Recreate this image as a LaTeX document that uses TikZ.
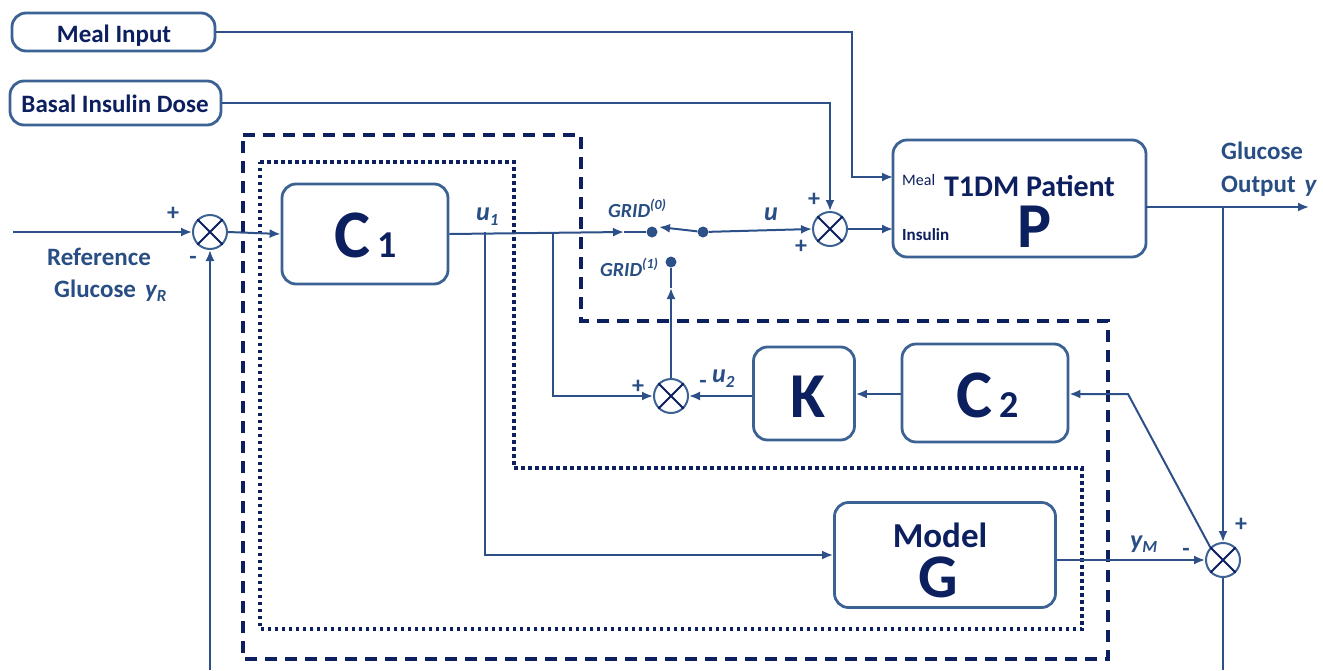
\documentclass[tikz,border=0pt]{standalone}
\usepackage{fontspec}
\setmainfont{Carlito}
\usetikzlibrary{arrows.meta,calc}
\definecolor{navy}{RGB}{12,31,94}
\definecolor{boxc}{RGB}{60,98,148}
\definecolor{linec}{RGB}{44,80,135}
\definecolor{labc}{RGB}{40,78,132}
\newcommand{\fs}[1]{\fontsize{#1}{#1}\selectfont}
\begin{document}
\begin{tikzpicture}[x=1pt,y=-1pt,
  blk/.style={draw=boxc,line width=2.8pt,rounded corners=14pt,inner sep=0,fill=white},
  sumnode/.style={circle,draw=boxc,line width=2pt,minimum size=34pt,inner sep=0,fill=white},
  conn/.style={draw=linec,line width=2pt},
  arr/.style={conn,-{Latex[length=11pt,width=9pt]}},
  dotnode/.style={circle,fill=linec,minimum size=11pt,inner sep=0},
  txt/.style={inner sep=0,text=navy,font=\bfseries},
  lab/.style={inner sep=0,text=labc,font=\bfseries},
  sgn/.style={inner sep=0,text=labc,font=\bfseries\fs{24}},
  dashbox/.style={draw=navy,line width=3.5pt,dash pattern=on 12pt off 8pt},
  dotbox/.style={draw=navy,line width=3.5pt,dash pattern=on 3.5pt off 3.5pt}
]
\useasboundingbox (0,0) rectangle (1323,670);

% enclosing boxes
\draw[dashbox] (243,135) -- (581,135) -- (581,321) -- (1108,321) -- (1108,659) -- (243,659) -- cycle;
\draw[dotbox] (260,162) -- (514,162) -- (514,468) -- (1082,468) -- (1082,629) -- (260,629) -- cycle;

% blocks
\node[blk,minimum width=203pt,minimum height=38pt] (meal) at (113.5,32) {};
\node[blk,minimum width=211pt,minimum height=44pt] (basal) at (115.5,103) {};
\node[blk,minimum width=166pt,minimum height=100pt] (C1) at (365,234) {};
\node[blk,minimum width=253pt,minimum height=117pt] (P) at (1019.5,198.5) {};
\node[blk,minimum width=101pt,minimum height=93pt] (K) at (804,393.5) {};
\node[blk,minimum width=166pt,minimum height=98pt] (C2) at (985,393) {};
\node[blk,minimum width=221pt,minimum height=105pt] (G) at (945,555) {};

% summing junctions
\node[sumnode] (s0) at (210,232) {};
\node[sumnode] (s1) at (830,229) {};
\node[sumnode] (s2) at (671,396) {};
\node[sumnode] (s3) at (1223,560) {};

% switch contacts
\node[dotnode] (g0) at (652,232) {};
\node[dotnode] (g0r) at (703,232) {};
\node[dotnode] (g1) at (671,262) {};

% coordinates
\coordinate (yin) at (13,232);
\coordinate (fb) at (210,670);
\coordinate (ga) at (624,232);
\coordinate (sw) at (659,227);
\coordinate (mk) at (852,177);
\coordinate (pm) at (893,177);
\coordinate (pin) at (893,229);
\coordinate (po) at (1146,207);
\coordinate (yo) at (1309,207);
\coordinate (br) at (1223,207);
\coordinate (bot) at (1223,670);
\coordinate (dg) at (1128,394);
\coordinate (b1) at (485,232);
\coordinate (b2) at (553,232);
\coordinate (ga1) at (671,288);

% connectors
\draw[arr] (yin) -- (s0.west);
\draw[arr] (fb) -- (s0.south);
\draw[arr] (s0.east) -- (C1.west);
\draw[arr] (C1.east) -- (ga);
\draw[conn] (ga) -- (g0);
\draw[arr] (g0r) -- (sw);
\draw[arr] (g0r) -- (s1.west);
\draw[arr] (s1.east) -- (pin);
\draw[arr] (meal.east) -| (mk) -- (pm);
\draw[arr] (basal.east) -| (s1.north);
\draw[arr] (po) -- (yo);
\draw[arr] (br) -- (s3.north);
\draw[conn] (s3.south) -- (bot);
\draw[arr] (G.east |- s3) -- (s3.west);
\draw[arr] (s3.north west) -- (dg) -- (C2.east |- dg);
\draw[arr] (C2.west |- dg) -- (K.east |- dg);
\draw[arr] (K.west |- s2) -- (s2.east);
\draw[arr] (b1) |- (G.west);
\draw[arr] (b2) |- (s2.west);
\draw[arr] (s2.north) -- (ga1);
\draw[conn] (ga1) -- (g1);

% crosses in the summing junctions
\foreach \s in {s0,s1,s2,s3}{
  \draw[navy,line width=2pt] (\s.north west) -- (\s.south east) (\s.north east) -- (\s.south west);
}

% block texts
\node[txt,anchor=base] (tmeal) at (114,42) {\fs{25}Meal Input};
\node[txt,anchor=base] (tbasal) at (115,112) {\fs{25}Basal Insulin Dose};
\node[txt,anchor=base] (tc1) at (366,257) {\fs{68}C\hspace{7pt}\fs{38}1};
\node[txt,anchor=base] (tc2) at (988,417) {\fs{68}C\hspace{7pt}\fs{38}2};
\node[txt,anchor=base] (tk) at (808,417) {\fs{64}K};
\node[txt,anchor=base] (tmodel) at (940,547) {\fs{35}Model};
\node[txt,anchor=base] (tg) at (938,597) {\fs{62}G};
\node[txt,anchor=base] (tpat) at (1029.5,196) {\fs{30}T1DM Patient};
\node[txt,anchor=base] (tp) at (1035,247) {\fs{64}P};
\node[txt,anchor=base west,font=\mdseries] (tpm) at (902,185) {\fs{16}Meal};
\node[txt,anchor=base west] (tpi) at (902,240) {\fs{17}Insulin};

% signal labels
\node[lab,anchor=base] (lref) at (99,265) {\fs{25}Reference};
\node[lab,anchor=base west] (lglu) at (54,297) {\fs{25}Glucose\hspace{9pt}{\itshape y\raisebox{-4pt}{\fs{17}R}}};
\node[lab,anchor=base west] (lgo1) at (1221,159) {\fs{25}Glucose};
\node[lab,anchor=base west] (lgo2) at (1221,192) {\fs{25}Output\hspace{9pt}{\itshape y}};
\node[lab,anchor=base west] (lgrid0) at (608,217) {\fs{20}\itshape GRID\raisebox{8pt}{\fs{14}(0)}};
\node[lab,anchor=base west] (lgrid1) at (600,276) {\fs{20}\itshape GRID\raisebox{8pt}{\fs{14}(1)}};
\node[lab,anchor=base west] (lu1) at (476,220) {\fs{26}\itshape u\raisebox{-5pt}{\fs{17}1}};
\node[lab,anchor=base west] (lu) at (764,220) {\fs{26}\itshape u};
\node[lab,anchor=base west] (lu2) at (712,382) {\fs{26}\itshape u\raisebox{-5pt}{\fs{17}2}};
\node[lab,anchor=base west] (lym) at (1130,548) {\fs{26}\itshape y\raisebox{-4pt}{\fs{17}M}};

% signs
\node[sgn] (p0) at (173,214) {+};
\node[sgn] (m0) at (193,260) {-};
\node[sgn] (p1a) at (814,200) {+};
\node[sgn] (p1b) at (801,247) {+};
\node[sgn] (p2) at (638,387) {+};
\node[sgn] (m2) at (703,384) {-};
\node[sgn] (p3) at (1241,525) {+};
\node[sgn] (m3) at (1186,552) {-};
\end{tikzpicture}
\end{document}
